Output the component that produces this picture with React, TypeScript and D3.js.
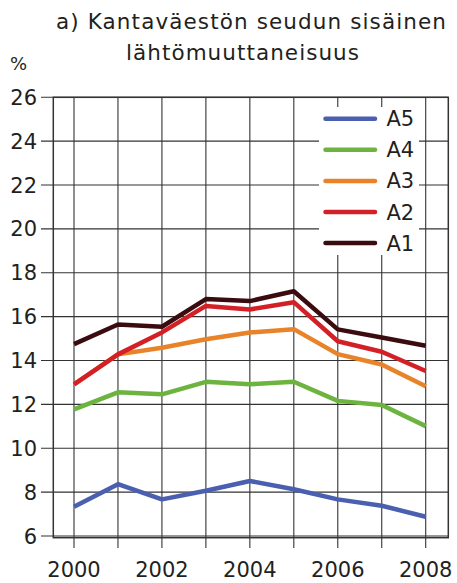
import React from "react";
import * as d3 from "d3";

const years = [2000, 2001, 2002, 2003, 2004, 2005, 2006, 2007, 2008];
const yTicks = [6, 8, 10, 12, 14, 16, 18, 20, 22, 24, 26];
const xTickLabels = [2000, 2002, 2004, 2006, 2008];

const A1 = [14.75, 15.64, 15.54, 16.8, 16.71, 17.16, 15.42, 15.05, 14.67];
const A2 = [12.91, 14.28, 15.28, 16.49, 16.33, 16.66, 14.88, 14.4, 13.52];
const A3 = [12.91, 14.28, 14.58, 14.97, 15.28, 15.43, 14.29, 13.82, 12.83];
const A4 = [11.77, 12.55, 12.46, 13.03, 12.92, 13.03, 12.16, 11.97, 11.01];
const A5 = [7.33, 8.36, 7.67, 8.06, 8.51, 8.13, 7.67, 7.38, 6.88];

const seriesNames = ["A5", "A4", "A3", "A2", "A1"];
const seriesValues = [A5, A4, A3, A2, A1];
const seriesColors = ["#4a5fb0", "#6db33f", "#e8832a", "#d32027", "#3a0c10"];

const W = 457;
const H = 583;
const left = 53.3;
const right = 448.3;
const top = 97.3;
const bottom = 537.7;
const font = "'DejaVu Sans', Verdana, sans-serif";
const textColor = "#231f20";

export default function App() {
  const x = d3.scaleLinear().domain([2000, 2008]).range([74, 425.7]);
  const y = d3.scaleLinear().domain([6, 26]).range([536, 97.3]);
  const line = d3
    .line<number>()
    .x((_, i) => x(years[i]))
    .y((d) => y(d));

  const legendX = 319;
  const legendY = 107;
  const legendW = 100;
  const legendH = 148;

  return (
    <svg
      width={W}
      height={H}
      style={{ position: "absolute", left: 0, top: 0, background: "#fff" }}
      fontFamily={font}
    >
      <rect x={0} y={0} width={W} height={H} fill="#fff" />
      {/* title */}
      <text
        x={56}
        y={28.5}
        fontSize={21.5}
        fill={textColor}
        textLength={390}
        lengthAdjust="spacing"
      >
        a) Kantaväestön seudun sisäinen
      </text>
      <text
        x={126}
        y={60}
        fontSize={21.5}
        fill={textColor}
        textLength={233}
        lengthAdjust="spacing"
      >
        lähtömuuttaneisuus
      </text>
      <text x={10} y={70} fontSize={18} fill={textColor}>
        %
      </text>

      {/* horizontal grid */}
      {yTicks.map((t) => (
        <g key={"h" + t}>
          <line x1={41} x2={right} y1={y(t)} y2={y(t)} stroke="#333" strokeWidth={1.1} />
          <text
            x={37}
            y={y(t)}
            dy="0.36em"
            textAnchor="end"
            fontSize={21}
            fill={textColor}
          >
            {t}
          </text>
        </g>
      ))}
      {/* vertical grid */}
      {years.map((yr) => (
        <line
          key={"v" + yr}
          x1={x(yr)}
          x2={x(yr)}
          y1={top}
          y2={548}
          stroke="#333"
          strokeWidth={1.1}
        />
      ))}
      {xTickLabels.map((yr) => (
        <text
          key={"xl" + yr}
          x={x(yr)}
          y={577}
          textAnchor="middle"
          fontSize={21}
          fill={textColor}
        >
          {yr}
        </text>
      ))}
      {/* frame */}
      <rect
        x={left}
        y={top}
        width={right - left}
        height={bottom - top}
        fill="none"
        stroke="#333"
        strokeWidth={1.5}
      />

      {/* legend background */}
      <rect x={legendX} y={legendY} width={legendW} height={legendH} fill="#fff" />

      {/* series, drawn bottom-up so A1 on top */}
      {seriesValues.map((vals, i) => (
        <path
          key={seriesNames[i]}
          d={line(vals) || ""}
          fill="none"
          stroke={seriesColors[i]}
          strokeWidth={4.5}
          strokeLinejoin="round"
        />
      ))}

      {/* legend */}
      {seriesNames.map((name, i) => {
        const ly = 118.7 + i * 31.1;
        return (
          <g key={"lg" + name}>
            <line
              x1={325.5}
              x2={375}
              y1={ly}
              y2={ly}
              stroke={seriesColors[i]}
              strokeWidth={4.5}
              strokeLinecap="round"
            />
            <text x={386.5} y={ly} dy="0.36em" fontSize={21} fill={textColor}>
              {name}
            </text>
          </g>
        );
      })}
    </svg>
  );
}
